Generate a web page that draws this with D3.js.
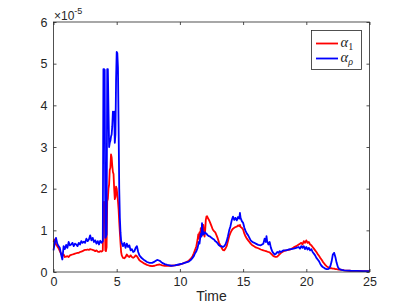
<!DOCTYPE html>
<html>
<head>
<meta charset="utf-8">
<script src="https://cdn.jsdelivr.net/npm/d3@7"></script>
<style>
body { margin: 0; background: #fff; }
text { font-family: "Liberation Sans", Arial, sans-serif; fill: #262626; }
.leg text { font-family: "Liberation Serif", "DejaVu Serif", serif; }
</style>
</head>
<body>
<div id="chart"></div>
<script>
// values are in units of 1e-5 (axis carries the x10^-5 multiplier)
var time = [0,0.1,0.2,0.3,0.4,0.5,0.6,0.7,0.8,0.9,1.0,1.1,1.2,1.3,1.4,1.5,1.6,1.7,1.8,1.9,
  2.0,2.1,2.2,2.3,2.4,2.5,2.6,2.7,2.8,2.9,3.0,3.1,3.2,3.3,3.4,3.5,3.6,3.7,3.8,3.85,3.9,
  3.95,4.0,4.05,4.1,4.15,4.2,4.25,4.3,4.35,4.4,4.45,4.5,4.55,4.6,4.65,4.7,4.75,4.8,4.85,4.9,4.95,
  5.0,5.05,5.1,5.15,5.2,5.25,5.3,5.35,5.4,5.5,5.6,5.7,5.8,5.9,6.0,6.1,6.2,6.3,6.4,6.5,6.6,6.7,6.8,6.9,
  7.0,7.2,7.4,7.6,7.8,8.0,8.2,8.4,8.6,8.8,9.0,9.3,9.6,9.9,10.2,10.5,10.7,10.9,
  11.0,11.1,11.2,11.3,11.4,11.45,11.5,11.55,11.6,11.65,11.7,11.75,11.8,11.85,11.9,11.95,
  12.0,12.05,12.1,12.15,12.2,12.3,12.4,12.5,12.6,12.7,12.8,12.9,13.0,13.1,13.2,13.3,13.4,13.5,13.6,13.7,13.8,13.9,
  14.0,14.1,14.2,14.3,14.4,14.5,14.6,14.7,14.75,14.8,14.9,15.0,15.1,15.2,15.3,15.4,15.5,15.6,15.7,15.8,15.9,
  16.0,16.2,16.4,16.6,16.7,16.8,16.85,16.9,17.0,17.1,17.2,17.3,17.4,17.5,17.6,17.7,17.8,17.9,
  18.0,18.2,18.4,18.6,18.8,19.0,19.2,19.4,19.5,19.6,19.7,19.8,19.9,20.0,20.1,20.2,20.3,20.4,20.5,20.6,20.7,20.8,20.9,
  21.0,21.1,21.2,21.3,21.4,21.5,21.6,21.7,21.8,21.9,22.0,22.1,22.2,22.3,22.4,22.5,22.6,22.8,23.0,23.5,24.0,24.5,25.0]

var alpha1 = [0.72,0.78,0.66,0.62,0.57,0.50,0.44,0.40,0.42,0.36,0.37,0.38,0.36,0.40,0.41,0.42,0.43,0.44,0.45,0.46,
  0.46,0.48,0.49,0.50,0.52,0.53,0.53,0.54,0.53,0.55,0.54,0.53,0.52,0.50,0.52,0.49,0.48,0.50,0.49,0.50,0.52,
  1.68,1.66,1.68,0.52,0.50,0.60,1.70,1.75,2.00,2.10,2.45,2.50,2.82,2.75,2.55,2.40,2.35,2.00,1.75,1.80,2.05,
  2.00,1.85,1.70,1.50,1.20,0.95,0.70,0.48,0.40,0.34,0.33,0.36,0.42,0.38,0.36,0.40,0.36,0.34,0.36,0.40,0.38,0.33,0.28,0.26,
  0.24,0.20,0.17,0.15,0.14,0.15,0.17,0.18,0.16,0.15,0.15,0.15,0.16,0.17,0.20,0.24,0.27,0.33,
  0.38,0.45,0.53,0.62,0.78,0.90,0.80,0.95,0.85,1.05,0.92,0.88,1.02,1.13,0.95,0.85,
  1.00,1.25,1.33,1.34,1.30,1.25,1.18,1.10,1.02,0.98,0.95,0.88,0.80,0.70,0.64,0.58,0.53,0.52,0.56,0.62,0.74,0.86,
  0.94,1.00,1.04,1.06,1.08,1.09,1.12,1.10,1.13,1.08,1.06,1.02,0.92,0.85,0.80,0.76,0.72,0.68,0.65,0.63,0.61,
  0.59,0.57,0.54,0.52,0.51,0.50,0.50,0.49,0.48,0.47,0.44,0.41,0.38,0.37,0.36,0.37,0.40,0.43,
  0.46,0.50,0.52,0.53,0.55,0.59,0.62,0.66,0.68,0.70,0.66,0.74,0.70,0.76,0.70,0.72,0.66,0.64,0.60,0.56,0.52,0.48,0.43,
  0.39,0.34,0.30,0.25,0.21,0.17,0.14,0.12,0.10,0.09,0.09,0.08,0.08,0.07,0.07,0.06,0.06,0.05,0.04,0.03,0.025,0.02,0.02]

var alphaRho = [0.52,0.70,0.82,0.68,0.62,0.58,0.42,0.30,0.62,0.55,0.65,0.58,0.72,0.64,0.66,0.70,0.62,0.68,0.66,0.62,
  0.70,0.66,0.74,0.70,0.73,0.70,0.80,0.74,0.78,0.88,0.76,0.82,0.72,0.76,0.68,0.74,0.66,0.75,0.70,0.72,0.74,
  4.87,4.87,4.85,0.82,0.85,0.90,4.87,4.87,3.90,3.00,3.10,3.15,3.25,3.30,3.50,3.85,3.80,3.85,3.10,3.30,4.60,
  5.28,5.25,4.90,3.50,2.00,1.30,0.95,0.75,0.70,0.62,0.70,0.58,0.68,0.60,0.64,0.52,0.55,0.48,0.50,0.58,0.62,0.48,0.40,0.36,
  0.33,0.28,0.24,0.22,0.22,0.25,0.29,0.27,0.22,0.19,0.17,0.15,0.16,0.18,0.20,0.23,0.25,0.30,
  0.34,0.38,0.45,0.50,0.58,0.65,0.72,0.68,0.80,0.92,0.85,1.17,1.00,0.90,0.95,0.92,
  0.95,0.93,0.92,0.90,0.88,0.86,0.85,0.82,0.80,0.78,0.74,0.72,0.68,0.64,0.62,0.62,0.60,0.62,0.66,0.74,0.86,1.00,
  1.10,1.24,1.33,1.25,1.30,1.24,1.32,1.28,1.42,1.30,1.22,1.18,1.06,0.98,0.92,0.88,0.82,0.76,0.73,0.71,0.70,
  0.68,0.65,0.64,0.68,0.80,0.72,0.86,0.74,0.66,0.72,0.58,0.50,0.45,0.42,0.44,0.48,0.46,0.50,
  0.48,0.52,0.52,0.54,0.55,0.56,0.58,0.60,0.56,0.62,0.58,0.62,0.55,0.60,0.54,0.58,0.52,0.55,0.48,0.44,0.40,0.34,0.30,
  0.26,0.20,0.15,0.12,0.10,0.08,0.07,0.07,0.08,0.14,0.25,0.42,0.46,0.36,0.22,0.12,0.07,0.05,0.04,0.03,0.025,0.02,0.02]

var xTicks = [0, 5, 10, 15, 20, 25]
var yTicks = [0, 1, 2, 3, 4, 5, 6]
var seriesNames = ["\u03b1", "\u03b1"]
var seriesSubs = ["1", "\u03c1"]
var seriesColors = ["#ff0000", "#0000ff"]

var W = 408, H = 306
var margin = {left: 53.5, right: 38.5, top: 22, bottom: 34}

var svg = d3.select("#chart").append("svg").attr("width", W).attr("height", H)

var x = d3.scaleLinear().domain([0, 25]).range([margin.left, W - margin.right])
var y = d3.scaleLinear().domain([0, 6]).range([H - margin.bottom, margin.top])

var series = [alpha1, alphaRho]

var line = d3.line()
    .x(function(d){ return x(d[0]) })
    .y(function(d){ return y(d[1]) })

series.forEach(function(vals, i){
    svg.append("path")
        .datum(time.map(function(t, j){ return [t, vals[j]] }))
        .attr("d", line)
        .attr("fill", "none")
        .attr("stroke", seriesColors[i])
        .attr("stroke-width", 1.8)
        .attr("stroke-linejoin", "round")
})

/* box and inward ticks on all four sides */
function styleAxis(g){
    g.select(".domain").remove()
    g.selectAll(".tick line").attr("stroke", "#262626").attr("stroke-width", 0.8)
    g.selectAll("text").attr("fill", "#262626").style("font-size", "12.5px")
        .style("font-family", '"Liberation Sans", Arial, sans-serif')
}

svg.append("g").attr("transform", "translate(0," + y(0) + ")")
    .call(d3.axisBottom(x).tickValues(xTicks).tickSize(-3).tickPadding(5).tickFormat(d3.format("d")))
    .call(styleAxis)
svg.append("g").attr("transform", "translate(0," + y(6) + ")")
    .call(d3.axisTop(x).tickValues(xTicks).tickSize(-3).tickFormat(""))
    .call(styleAxis)
svg.append("g").attr("transform", "translate(" + x(0) + ",0)")
    .call(d3.axisLeft(y).tickValues(yTicks).tickSize(-3).tickPadding(6).tickFormat(d3.format("d")))
    .call(styleAxis)
svg.append("g").attr("transform", "translate(" + x(25) + ",0)")
    .call(d3.axisRight(y).tickValues(yTicks).tickSize(-3).tickFormat(""))
    .call(styleAxis)

svg.append("rect")
    .attr("x", x(0)).attr("y", y(6))
    .attr("width", x(25) - x(0)).attr("height", y(0) - y(6))
    .attr("fill", "none").attr("stroke", "#262626").attr("stroke-width", 0.8)

// exponent label
var ex = svg.append("text").attr("x", 54).attr("y", 19.5).style("font-size", "12px")
ex.append("tspan").text("\u00d710")
ex.append("tspan").attr("dy", -6).style("font-size", "9px").text("-5")

svg.append("text")
    .attr("x", (x(0) + x(25)) / 2).attr("y", 300.5)
    .attr("text-anchor", "middle").style("font-size", "14px")
    .text("Time")

/* legend */
var leg = svg.append("g").attr("class", "leg")
leg.append("rect").attr("x", 311.5).attr("y", 30.5).attr("width", 50).attr("height", 39)
    .attr("fill", "#fff").attr("stroke", "#262626").attr("stroke-width", 0.8)

seriesNames.forEach(function(name, i){
    var ly = 43.5 + i * 15
    leg.append("line").attr("x1", 316).attr("x2", 338).attr("y1", ly).attr("y2", ly)
        .attr("stroke", seriesColors[i]).attr("stroke-width", 1.8)
    var t = leg.append("text").attr("x", 340.5).attr("y", ly + 3.5).style("font-size", "14.5px")
    t.append("tspan").style("font-style", "italic").text(name)
    t.append("tspan").attr("dy", 3).style("font-size", "10px")
        .style("font-style", i === 1 ? "italic" : "normal").text(seriesSubs[i])
})
</script>
</body>
</html>
